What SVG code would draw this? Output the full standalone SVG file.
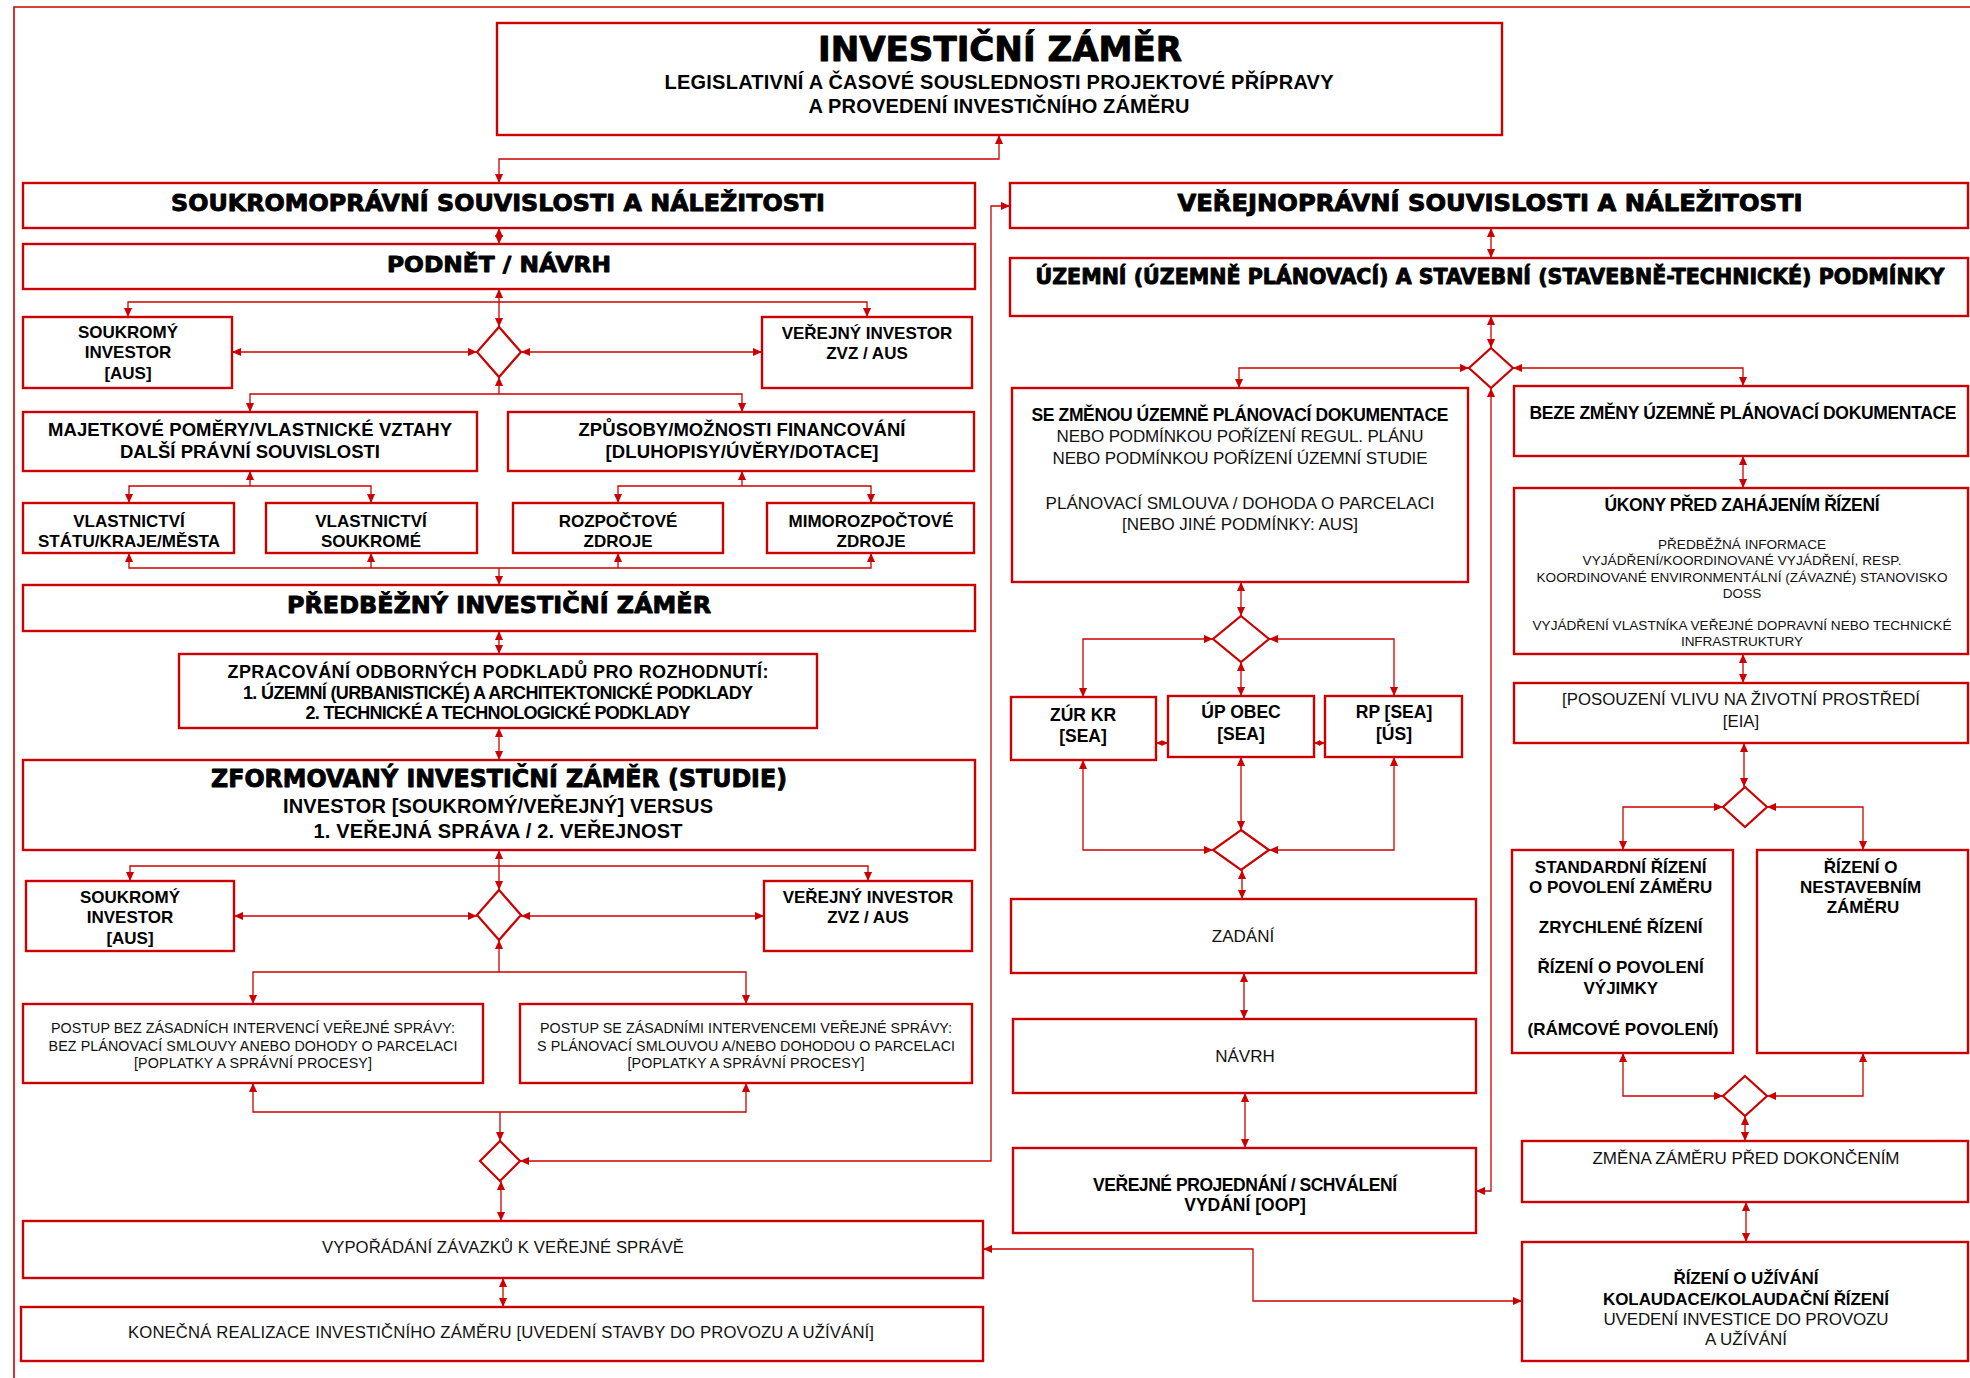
<svg xmlns="http://www.w3.org/2000/svg" width="1970" height="1378" viewBox="0 0 1970 1378">
  <style>
    .frame { fill: none; stroke: #cc0000; stroke-width: 1.6; }
    .box { fill: #ffffff; stroke: #cc0000; stroke-width: 2.4; }
    .dia { fill: #ffffff; stroke: #cc0000; stroke-width: 2.2; }
    .con { fill: none; stroke: #cc0000; stroke-width: 1.3; }
    .both { marker-start: url(#ah); marker-end: url(#ah); }
    .end { marker-end: url(#ah); }
    .start { marker-start: url(#ah); }
    .sboth { marker-start: url(#ahs); marker-end: url(#ahs); }
    .h { font-family: "DejaVu Sans", "Liberation Sans", sans-serif; font-weight: bold; text-anchor: middle; fill: #000; stroke: #000; stroke-width: 0.9; stroke-linejoin: round; }
    .b { font-family: "Liberation Sans", Arial, sans-serif; font-weight: bold; text-anchor: middle; fill: #000; }
    .r { font-family: "Liberation Sans", Arial, sans-serif; text-anchor: middle; fill: #111; }
  </style>
  <defs>
    <marker id="ah" viewBox="0 0 10 10" refX="10" refY="5" markerWidth="9" markerHeight="9" markerUnits="userSpaceOnUse" orient="auto-start-reverse">
      <path d="M0,0.5 L10,5 L0,9.5 z" fill="#cc0000"/>
    </marker>
    <marker id="ahs" viewBox="0 0 10 10" refX="10" refY="5" markerWidth="6" markerHeight="8" markerUnits="userSpaceOnUse" orient="auto-start-reverse">
      <path d="M0,0.5 L10,5 L0,9.5 z" fill="#cc0000"/>
    </marker>
  </defs>

  <rect width="1970" height="1378" fill="#ffffff"/>
  <path class="frame" d="M1970,7 H14 V1378"/>

  <!-- connectors -->
  <g id="connectors">
    <path class="con both" d="M999,135 V159 H499 V183"/>
    <path class="con both" d="M499,228 V244"/>
    <path class="con both" d="M499,289 V327"/>
    <path class="con both" d="M128,317 V302 H867 V317"/>
    <path class="con both" d="M232,352 H477"/>
    <path class="con both" d="M521,352 H762"/>
    <path class="con start" d="M499,377 V394"/>
    <path class="con both" d="M250,412 V394 H742 V412"/>
    <path class="con start" d="M250,471 V486"/>
    <path class="con both" d="M129,503 V486 H371 V503"/>
    <path class="con start" d="M742,471 V486"/>
    <path class="con both" d="M618,503 V486 H871 V503"/>
    <path class="con both" d="M129,553 V568 H871 V553"/>
    <path class="con end" d="M371,568 V553"/>
    <path class="con end" d="M618,568 V553"/>
    <path class="con end" d="M499,568 V585"/>
    <path class="con both" d="M499,631 V654"/>
    <path class="con both" d="M499,728 V760"/>
    <path class="con both" d="M499,850 V890"/>
    <path class="con both" d="M130,881 V866 H868 V881"/>
    <path class="con both" d="M234,916 H477"/>
    <path class="con both" d="M521,916 H764"/>
    <path class="con start" d="M499,940 V972"/>
    <path class="con both" d="M253,1004 V972 H746 V1004"/>
    <path class="con both" d="M253,1083 V1112 H746 V1083"/>
    <path class="con end" d="M500,1112 V1141"/>
    <path class="con both" d="M520,1161 H991 V206 H1010"/>
    <path class="con both" d="M501,1181 V1221"/>
    <path class="con both" d="M503,1278 V1307"/>
    <path class="con both" d="M983,1249 H1253 V1301 H1522"/>

    <path class="con both" d="M1491,228 V258"/>
    <path class="con both" d="M1491,316 V348"/>
    <path class="con both" d="M1469,368 H1239 V388"/>
    <path class="con both" d="M1513,368 H1743 V386"/>
    <path class="con both" d="M1491,388 V1191 H1476"/>
    <path class="con both" d="M1241,582 V616"/>
    <path class="con both" d="M1213,639 H1083 V697"/>
    <path class="con both" d="M1269,639 H1394 V696"/>
    <path class="con both" d="M1241,662 V696"/>
    <path class="con sboth" d="M1156,743 H1168"/>
    <path class="con sboth" d="M1314,743 H1325"/>
    <path class="con both" d="M1083,760 V850 H1213"/>
    <path class="con both" d="M1241,757 V830"/>
    <path class="con both" d="M1394,757 V850 H1269"/>
    <path class="con both" d="M1242,870 V899"/>
    <path class="con both" d="M1244,973 V1019"/>
    <path class="con both" d="M1245,1093 V1148"/>
    <path class="con both" d="M1743,456 V488"/>
    <path class="con both" d="M1743,654 V683"/>
    <path class="con both" d="M1744,743 V787"/>
    <path class="con both" d="M1723,807 H1623 V850"/>
    <path class="con both" d="M1767,807 H1863 V850"/>
    <path class="con both" d="M1623,1053 V1096 H1723"/>
    <path class="con both" d="M1863,1053 V1096 H1767"/>
    <path class="con both" d="M1745,1116 V1141"/>
    <path class="con both" d="M1746,1202 V1242"/>
  </g>

  <!-- header -->
  <g id="title">
    <rect class="box" x="497" y="23" width="1005" height="112"/>
    <text class="h" x="1000" y="61" font-size="34" textLength="364" lengthAdjust="spacingAndGlyphs">INVESTIČNÍ ZÁMĚR</text>
    <text class="b" x="999" y="89" font-size="20" textLength="669">LEGISLATIVNÍ A ČASOVÉ SOUSLEDNOSTI PROJEKTOVÉ PŘÍPRAVY</text>
    <text class="b" x="999" y="113" font-size="20" textLength="381">A PROVEDENÍ INVESTIČNÍHO ZÁMĚRU</text>
  </g>

  <!-- private-law branch -->
  <g id="soukromopravni">
    <rect class="box" x="23" y="183" width="952" height="45"/>
    <text class="h" x="498" y="211" font-size="23" textLength="654" lengthAdjust="spacingAndGlyphs">SOUKROMOPRÁVNÍ SOUVISLOSTI A NÁLEŽITOSTI</text>
  </g>
  <g id="podnet">
    <rect class="box" x="23" y="244" width="952" height="45"/>
    <text class="h" x="499" y="272" font-size="22" textLength="224" lengthAdjust="spacingAndGlyphs">PODNĚT / NÁVRH</text>
  </g>
  <g id="soukromy-investor-1">
    <rect class="box" x="23" y="317" width="209" height="71"/>
    <text class="b" font-size="17"><tspan x="128" y="338">SOUKROMÝ</tspan><tspan x="128" y="358">INVESTOR</tspan><tspan x="128" y="379">[AUS]</tspan></text>
  </g>
  <g id="rozhodnuti-1">
    <polygon class="dia" points="499,327 521,352 499,377 477,352"/>
  </g>
  <g id="verejny-investor-1">
    <rect class="box" x="762" y="317" width="210" height="71"/>
    <text class="b" font-size="17"><tspan x="867" y="339">VEŘEJNÝ INVESTOR</tspan><tspan x="867" y="359">ZVZ / AUS</tspan></text>
  </g>
  <g id="majetkove-pomery">
    <rect class="box" x="23" y="412" width="454" height="59"/>
    <text class="b" x="250" y="436" font-size="18.5" textLength="404">MAJETKOVÉ POMĚRY/VLASTNICKÉ VZTAHY</text>
    <text class="b" x="250" y="458" font-size="18.5" textLength="260">DALŠÍ PRÁVNÍ SOUVISLOSTI</text>
  </g>
  <g id="financovani">
    <rect class="box" x="508" y="412" width="466" height="59"/>
    <text class="b" x="742" y="436" font-size="18.5" textLength="327">ZPŮSOBY/MOŽNOSTI FINANCOVÁNÍ</text>
    <text class="b" x="742" y="458" font-size="18.5" textLength="273">[DLUHOPISY/ÚVĚRY/DOTACE]</text>
  </g>
  <g id="vlastnictvi-statu">
    <rect class="box" x="23" y="503" width="211" height="50"/>
    <text class="b" font-size="17"><tspan x="129" y="527">VLASTNICTVÍ</tspan><tspan x="129" y="547">STÁTU/KRAJE/MĚSTA</tspan></text>
  </g>
  <g id="vlastnictvi-soukrome">
    <rect class="box" x="266" y="503" width="211" height="50"/>
    <text class="b" font-size="17"><tspan x="371" y="527">VLASTNICTVÍ</tspan><tspan x="371" y="547">SOUKROMÉ</tspan></text>
  </g>
  <g id="rozpoctove-zdroje">
    <rect class="box" x="513" y="503" width="210" height="50"/>
    <text class="b" font-size="17"><tspan x="618" y="527">ROZPOČTOVÉ</tspan><tspan x="618" y="547">ZDROJE</tspan></text>
  </g>
  <g id="mimorozpoctove-zdroje">
    <rect class="box" x="767" y="503" width="207" height="50"/>
    <text class="b" font-size="17"><tspan x="871" y="527">MIMOROZPOČTOVÉ</tspan><tspan x="871" y="547">ZDROJE</tspan></text>
  </g>
  <g id="predbezny-zamer">
    <rect class="box" x="23" y="585" width="952" height="46"/>
    <text class="h" x="499" y="613" font-size="23.5" textLength="424" lengthAdjust="spacingAndGlyphs">PŘEDBĚŽNÝ INVESTIČNÍ ZÁMĚR</text>
  </g>
  <g id="odborne-podklady">
    <rect class="box" x="179" y="654" width="638" height="74"/>
    <text class="b" x="498" y="678" font-size="18" textLength="541">ZPRACOVÁNÍ ODBORNÝCH PODKLADŮ PRO ROZHODNUTÍ:</text>
    <text class="b" x="498" y="699" font-size="18" textLength="510">1. ÚZEMNÍ (URBANISTICKÉ) A ARCHITEKTONICKÉ PODKLADY</text>
    <text class="b" x="498" y="719" font-size="18" textLength="385">2. TECHNICKÉ A TECHNOLOGICKÉ PODKLADY</text>
  </g>
  <g id="zformovany-zamer">
    <rect class="box" x="23" y="760" width="952" height="90"/>
    <text class="h" x="499" y="787" font-size="24" textLength="576" lengthAdjust="spacingAndGlyphs">ZFORMOVANÝ INVESTIČNÍ ZÁMĚR (STUDIE)</text>
    <text class="b" x="498" y="813" font-size="20" textLength="430">INVESTOR [SOUKROMÝ/VEŘEJNÝ] VERSUS</text>
    <text class="b" x="498" y="838" font-size="20" textLength="369">1. VEŘEJNÁ SPRÁVA / 2. VEŘEJNOST</text>
  </g>
  <g id="soukromy-investor-2">
    <rect class="box" x="26" y="881" width="208" height="70"/>
    <text class="b" font-size="17"><tspan x="130" y="903">SOUKROMÝ</tspan><tspan x="130" y="923">INVESTOR</tspan><tspan x="130" y="944">[AUS]</tspan></text>
  </g>
  <g id="rozhodnuti-2">
    <polygon class="dia" points="499,890 521,915 499,940 477,915"/>
  </g>
  <g id="verejny-investor-2">
    <rect class="box" x="764" y="881" width="208" height="70"/>
    <text class="b" font-size="17"><tspan x="868" y="903">VEŘEJNÝ INVESTOR</tspan><tspan x="868" y="923">ZVZ / AUS</tspan></text>
  </g>
  <g id="postup-bez-intervenci">
    <rect class="box" x="23" y="1004" width="460" height="79"/>
    <text class="r" x="253" y="1033" font-size="14.3" textLength="404">POSTUP BEZ ZÁSADNÍCH INTERVENCÍ VEŘEJNÉ SPRÁVY:</text>
    <text class="r" x="253" y="1051" font-size="14.3" textLength="409">BEZ PLÁNOVACÍ SMLOUVY ANEBO DOHODY O PARCELACI</text>
    <text class="r" x="253" y="1068" font-size="14.3" textLength="238">[POPLATKY A SPRÁVNÍ PROCESY]</text>
  </g>
  <g id="postup-s-intervencemi">
    <rect class="box" x="520" y="1004" width="452" height="79"/>
    <text class="r" x="746" y="1033" font-size="14.3" textLength="412">POSTUP SE ZÁSADNÍMI INTERVENCEMI VEŘEJNÉ SPRÁVY:</text>
    <text class="r" x="746" y="1051" font-size="14.3" textLength="418">S PLÁNOVACÍ SMLOUVOU A/NEBO DOHODOU O PARCELACI</text>
    <text class="r" x="746" y="1068" font-size="14.3" textLength="237">[POPLATKY A SPRÁVNÍ PROCESY]</text>
  </g>
  <g id="rozhodnuti-3">
    <polygon class="dia" points="500,1141 520,1161 500,1181 480,1161"/>
  </g>
  <g id="vyporadani-zavazku">
    <rect class="box" x="23" y="1221" width="960" height="57"/>
    <text class="r" x="503" y="1253" font-size="16.7" textLength="362">VYPOŘÁDÁNÍ ZÁVAZKŮ K VEŘEJNÉ SPRÁVĚ</text>
  </g>
  <g id="konecna-realizace">
    <rect class="box" x="21" y="1307" width="962" height="54"/>
    <text class="r" x="501" y="1338" font-size="16.7" textLength="746">KONEČNÁ REALIZACE INVESTIČNÍHO ZÁMĚRU [UVEDENÍ STAVBY DO PROVOZU A UŽÍVÁNÍ]</text>
  </g>

  <!-- public-law branch -->
  <g id="verejnopravni">
    <rect class="box" x="1010" y="183" width="958" height="45"/>
    <text class="h" x="1490" y="211" font-size="23" textLength="625" lengthAdjust="spacingAndGlyphs">VEŘEJNOPRÁVNÍ SOUVISLOSTI A NÁLEŽITOSTI</text>
  </g>
  <g id="uzemni-podminky">
    <rect class="box" x="1010" y="258" width="958" height="58"/>
    <text class="h" x="1490" y="284" font-size="20.5" textLength="909" lengthAdjust="spacingAndGlyphs">ÚZEMNÍ (ÚZEMNĚ PLÁNOVACÍ) A STAVEBNÍ (STAVEBNĚ-TECHNICKÉ) PODMÍNKY</text>
  </g>
  <g id="rozhodnuti-4">
    <polygon class="dia" points="1491,348 1513,368 1491,388 1469,368"/>
  </g>
  <g id="se-zmenou-upd">
    <rect class="box" x="1012" y="388" width="456" height="194"/>
    <text class="b" x="1240" y="421" font-size="17.5" textLength="417">SE ZMĚNOU ÚZEMNĚ PLÁNOVACÍ DOKUMENTACE</text>
    <text class="r" x="1240" y="442" font-size="17" textLength="367">NEBO PODMÍNKOU POŘÍZENÍ REGUL. PLÁNU</text>
    <text class="r" x="1240" y="464" font-size="17" textLength="375">NEBO PODMÍNKOU POŘÍZENÍ ÚZEMNÍ STUDIE</text>
    <text class="r" x="1240" y="509" font-size="17" textLength="389">PLÁNOVACÍ SMLOUVA / DOHODA O PARCELACI</text>
    <text class="r" x="1240" y="530" font-size="17" textLength="236">[NEBO JINÉ PODMÍNKY: AUS]</text>
  </g>
  <g id="rozhodnuti-5">
    <polygon class="dia" points="1241,616 1269,639 1241,662 1213,639"/>
  </g>
  <g id="zur-kr">
    <rect class="box" x="1011" y="697" width="145" height="63"/>
    <text class="b" font-size="17.5"><tspan x="1083" y="721">ZÚR KR</tspan><tspan x="1083" y="742">[SEA]</tspan></text>
  </g>
  <g id="up-obec">
    <rect class="box" x="1168" y="696" width="146" height="61"/>
    <text class="b" font-size="17.5"><tspan x="1241" y="718">ÚP OBEC</tspan><tspan x="1241" y="740">[SEA]</tspan></text>
  </g>
  <g id="rp">
    <rect class="box" x="1325" y="696" width="137" height="61"/>
    <text class="b" font-size="17.5"><tspan x="1394" y="718">RP [SEA]</tspan><tspan x="1394" y="740">[ÚS]</tspan></text>
  </g>
  <g id="rozhodnuti-6">
    <polygon class="dia" points="1241,830 1269,850 1241,870 1213,850"/>
  </g>
  <g id="zadani">
    <rect class="box" x="1011" y="899" width="465" height="74"/>
    <text class="r" x="1243" y="942" font-size="17">ZADÁNÍ</text>
  </g>
  <g id="navrh">
    <rect class="box" x="1013" y="1019" width="463" height="74"/>
    <text class="r" x="1245" y="1062" font-size="17">NÁVRH</text>
  </g>
  <g id="verejne-projednani">
    <rect class="box" x="1013" y="1148" width="463" height="85"/>
    <text class="b" x="1245" y="1191" font-size="17.5" textLength="304">VEŘEJNÉ PROJEDNÁNÍ / SCHVÁLENÍ</text>
    <text class="b" x="1245" y="1211" font-size="17.5">VYDÁNÍ [OOP]</text>
  </g>
  <g id="beze-zmeny-upd">
    <rect class="box" x="1514" y="386" width="454" height="70"/>
    <text class="b" x="1743" y="419" font-size="17.5" textLength="427">BEZE ZMĚNY ÚZEMNĚ PLÁNOVACÍ DOKUMENTACE</text>
  </g>
  <g id="ukony-pred-rizenim">
    <rect class="box" x="1514" y="488" width="454" height="166"/>
    <text class="b" x="1742" y="511" font-size="17.5" textLength="275">ÚKONY PŘED ZAHÁJENÍM ŘÍZENÍ</text>
    <text class="r" x="1742" y="549" font-size="13.6" textLength="168">PŘEDBĚŽNÁ INFORMACE</text>
    <text class="r" x="1742" y="565" font-size="13.6" textLength="319">VYJÁDŘENÍ/KOORDINOVANÉ VYJÁDŘENÍ, RESP.</text>
    <text class="r" x="1742" y="582" font-size="13.6" textLength="411">KOORDINOVANÉ ENVIRONMENTÁLNÍ (ZÁVAZNÉ) STANOVISKO</text>
    <text class="r" x="1742" y="598" font-size="13.6">DOSS</text>
    <text class="r" x="1742" y="630" font-size="13.6" textLength="419">VYJÁDŘENÍ VLASTNÍKA VEŘEJNÉ DOPRAVNÍ NEBO TECHNICKÉ</text>
    <text class="r" x="1742" y="646" font-size="13.6" textLength="122">INFRASTRUKTURY</text>
  </g>
  <g id="posouzeni-eia">
    <rect class="box" x="1514" y="683" width="454" height="60"/>
    <text class="r" x="1741" y="705" font-size="16.8" textLength="358">[POSOUZENÍ VLIVU NA ŽIVOTNÍ PROSTŘEDÍ</text>
    <text class="r" x="1741" y="727" font-size="16.8">[EIA]</text>
  </g>
  <g id="rozhodnuti-7">
    <polygon class="dia" points="1745,787 1767,807 1745,827 1723,807"/>
  </g>
  <g id="standardni-rizeni">
    <rect class="box" x="1512" y="850" width="221" height="203"/>
    <text class="b" font-size="17">
      <tspan x="1623" y="873">STANDARDNÍ ŘÍZENÍ</tspan>
      <tspan x="1623" y="893">O POVOLENÍ ZÁMĚRU</tspan>
      <tspan x="1623" y="933">ZRYCHLENÉ ŘÍZENÍ</tspan>
      <tspan x="1623" y="973">ŘÍZENÍ O POVOLENÍ</tspan>
      <tspan x="1623" y="994">VÝJIMKY</tspan>
      <tspan x="1623" y="1035">(RÁMCOVÉ POVOLENÍ)</tspan>
    </text>
  </g>
  <g id="nestavebni-zamer">
    <rect class="box" x="1757" y="850" width="211" height="203"/>
    <text class="b" font-size="17">
      <tspan x="1863" y="873">ŘÍZENÍ O</tspan>
      <tspan x="1863" y="893">NESTAVEBNÍM</tspan>
      <tspan x="1863" y="913">ZÁMĚRU</tspan>
    </text>
  </g>
  <g id="rozhodnuti-8">
    <polygon class="dia" points="1745,1076 1767,1096 1745,1116 1723,1096"/>
  </g>
  <g id="zmena-zameru">
    <rect class="box" x="1522" y="1141" width="446" height="61"/>
    <text class="r" x="1746" y="1164" font-size="17" textLength="307">ZMĚNA ZÁMĚRU PŘED DOKONČENÍM</text>
  </g>
  <g id="rizeni-o-uzivani">
    <rect class="box" x="1522" y="1242" width="446" height="119"/>
    <text class="b" x="1746" y="1284" font-size="17" textLength="145">ŘÍZENÍ O UŽÍVÁNÍ</text>
    <text class="b" x="1746" y="1305" font-size="17" textLength="286">KOLAUDACE/KOLAUDAČNÍ ŘÍZENÍ</text>
    <text class="r" x="1746" y="1325" font-size="17" textLength="285">UVEDENÍ INVESTICE DO PROVOZU</text>
    <text class="r" x="1746" y="1345" font-size="17">A UŽÍVÁNÍ</text>
  </g>
</svg>
